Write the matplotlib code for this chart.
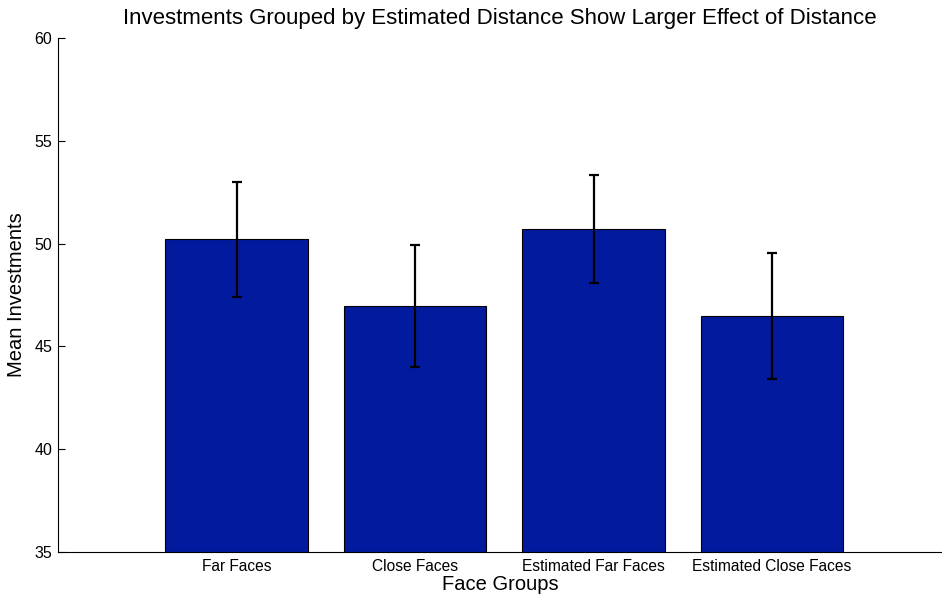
import matplotlib
matplotlib.use("Agg")
import matplotlib.pyplot as plt

categories = ["Far Faces", "Close Faces", "Estimated Far Faces", "Estimated Close Faces"]
means = [50.2, 46.97, 50.7, 46.47]
err_lo = [2.78, 2.98, 2.62, 3.06]
err_hi = [2.8, 2.98, 2.65, 3.06]
yticks = [35, 40, 45, 50, 55, 60]

plt.rcParams["font.family"] = ["Liberation Sans", "DejaVu Sans"]

fig = plt.figure(figsize=(9.42, 5.96), dpi=100)
ax = fig.add_axes([58 / 942, 44 / 596, 884 / 942, 514 / 596])

x = list(range(1, len(categories) + 1))
ax.bar(x, means, width=0.8, color="#021A9E", edgecolor="black", linewidth=0.8, zorder=2)
ax.errorbar(x, means, yerr=[err_lo, err_hi], fmt="none", ecolor="black",
            elinewidth=1.6, capsize=3.4, capthick=1.6, zorder=3)

ax.set_xlim(0, 884 / 178.5)
ax.set_ylim(35, 60)
ax.set_yticks(yticks)
ax.set_xticks(x, categories)
ax.tick_params(axis="y", direction="in", length=5, labelsize=11.5, width=0.8, pad=4)
ax.tick_params(axis="x", length=0, labelsize=11.2, pad=5)
for s in ["top", "right"]:
    ax.spines[s].set_visible(False)
for s in ["left", "bottom"]:
    ax.spines[s].set_linewidth(0.8)

ax.set_title("Investments Grouped by Estimated Distance Show Larger Effect of Distance",
             fontsize=16, pad=10)
ax.set_xlabel("Face Groups", fontsize=14.5, labelpad=1)
ax.set_ylabel("Mean Investments", fontsize=14.5, labelpad=6)

fig.savefig("out.png", dpi=100)
